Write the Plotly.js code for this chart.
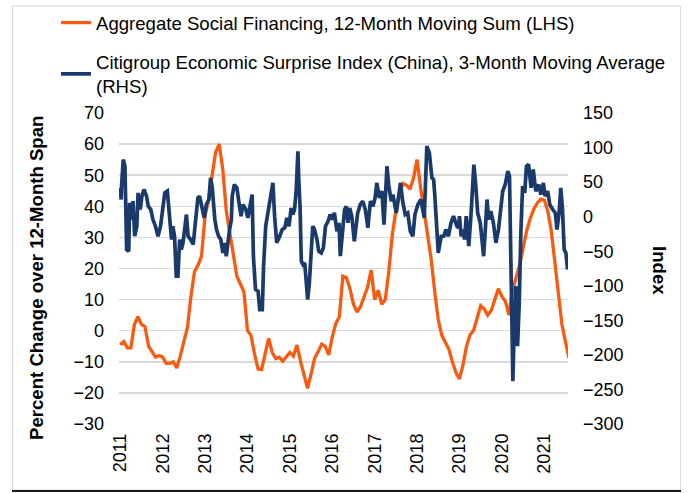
<!DOCTYPE html>
<html>
<head>
<meta charset="utf-8">
<script src="https://cdn.plot.ly/plotly-3.0.1.min.js"></script>
<style>
html,body{margin:0;padding:0;background:#fff;}
#chart{width:688px;height:493px;}
</style>
</head>
<body>
<div id="chart"></div>
<script>
// ---- Data ----
const yearTicks = [2011,2012,2013,2014,2015,2016,2017,2018,2019,2020,2021];
const yearLabels = ["2011","2012","2013","2014","2015","2016","2017","2018","2019","2020","2021"];

// Aggregate Social Financing, 12-month moving sum, % change over 12 months (monthly, Jan 2011 onward)
const tsfStartYear = 2011;
const tsfValues = [
 -4.5,-3.5,-5.5,-5.5,2,4.5,2,1.3,-5,-7,-8.5,-8,
 -8.5,-10.5,-10.5,-10,-12,-8,-3.5,1,11,19,21,24,
 37,42,50,57.5,60,52,38.5,31,24,17.5,15,12.5,
 0,-1.5,-7.5,-12.3,-12.5,-7.5,-2.5,-7,-9,-8.5,-9.8,-8.4,
 -7,-8.2,-4.6,-9.8,-14.3,-18.5,-14,-8.8,-6.8,-4.3,-5,-7.8,
 -2,2.3,4.5,17.5,17,13.5,8.5,6,7.7,10.5,14,19.5,
 10,13,8.5,10,19,31,38.5,44,47.3,46.8,45.5,49,
 55,46,38.5,30,23,12.5,3.5,-1.5,-4,-6,-10,-13.5,
 -15.5,-11,-5,-1.3,0.1,4,8,7,5,6.5,10,13.5,
 11,9.5,5,13,17,21,26.5,32,36,39,41,42.3,
 42,38.5,32,22,11,2,-3.5,-8.9
];

// Citigroup Economic Surprise Index (China), 3-month moving average
const cesiYears = [
 2011.00,2011.02,2011.03,2011.07,2011.11,2011.13,2011.15,2011.20,2011.22,2011.26,2011.30,2011.34,2011.39,2011.42,2011.47,2011.51,2011.56,2011.62,2011.66,2011.72,2011.77,2011.83,2011.89,2011.95,
 2012.01,2012.05,2012.11,2012.17,2012.21,2012.24,2012.28,2012.32,2012.36,2012.40,2012.44,2012.48,2012.52,2012.56,2012.60,2012.66,2012.72,2012.76,2012.79,2012.83,2012.87,2012.93,2012.98,
 2013.03,2013.09,2013.13,2013.17,2013.23,2013.27,2013.32,2013.37,2013.42,2013.46,2013.50,2013.54,2013.58,2013.62,2013.64,2013.69,2013.75,2013.80,2013.85,2013.89,2013.96,
 2014.01,2014.07,2014.11,2014.14,2014.19,2014.25,2014.29,2014.35,2014.38,2014.43,2014.48,2014.52,2014.56,2014.60,2014.64,2014.69,2014.76,2014.82,2014.88,2014.93,2014.98,
 2015.03,2015.07,2015.11,2015.15,2015.19,2015.21,2015.24,2015.27,2015.31,2015.35,2015.39,2015.42,2015.46,2015.50,2015.54,2015.58,2015.64,2015.68,2015.74,2015.79,2015.84,2015.90,2015.95,
 2016.00,2016.05,2016.11,2016.16,2016.19,2016.23,2016.29,2016.33,2016.37,2016.41,2016.46,2016.52,2016.60,2016.66,2016.72,2016.78,2016.84,2016.90,2016.96,
 2017.01,2017.05,2017.11,2017.17,2017.22,2017.25,2017.29,2017.33,2017.39,2017.43,2017.51,2017.61,2017.66,2017.72,2017.78,2017.84,2017.90,2017.95,
 2018.02,2018.09,2018.17,2018.23,2018.29,2018.35,2018.39,2018.42,2018.46,2018.50,2018.57,2018.63,2018.68,2018.74,2018.80,2018.86,2018.94,2018.98,
 2019.00,2019.04,2019.08,2019.12,2019.16,2019.22,2019.27,2019.31,2019.34,2019.38,2019.43,2019.49,2019.53,2019.57,2019.61,2019.65,2019.69,2019.74,2019.80,2019.86,2019.92,2019.98,
 2020.02,2020.08,2020.14,2020.18,2020.22,2020.26,2020.29,2020.33,2020.37,2020.41,2020.45,2020.49,2020.54,2020.58,2020.63,2020.69,2020.74,2020.80,2020.87,2020.92,2020.98,
 2021.02,2021.08,2021.13,2021.20,2021.26,2021.30,2021.35,2021.39,2021.43,2021.47,2021.51,2021.55
];
const cesiValues = [
 41.7,24.8,44.1,82.7,73.0,29.6,-47.6,-50.0,20.0,-4.2,22.4,-28.3,-13.8,34.4,10.3,29.6,39.3,29.6,15.1,10.3,-4.2,-13.8,-28.3,-13.8,
 10.3,34.4,36.9,-13.8,-33.1,-13.8,-28.3,-86.2,-86.2,-33.1,-47.6,-37.9,-18.6,3.1,-28.3,-33.1,-40.3,-13.8,10.3,27.2,29.6,15.1,-1.7,
 17.6,24.8,56.2,41.7,-4.2,-18.6,-28.3,-33.1,-52.4,-37.9,-57.2,-33.1,-18.0,-4.2,29.6,46.5,41.7,20.0,0.7,17.6,10.3,
 -1.7,17.6,32.0,-57.2,-105.5,-107.9,-134.4,-134.4,-71.7,-13.8,3.1,20.0,32.0,48.9,0.7,-37.9,-28.3,-18.6,-16.2,-1.7,-13.8,
 12.7,3.1,10.3,39.3,94.7,53.7,15.1,-64.4,-69.3,-66.9,-95.8,-119.9,-95.8,-52.4,-13.8,-18.6,-33.1,-50.0,-52.4,-45.2,-13.8,-6.6,3.1,
 -4.2,5.5,-21.0,-9.0,-57.2,-28.3,10.3,15.1,-9.0,12.7,0.7,-35.5,5.5,17.6,22.4,10.3,-16.2,22.4,15.1,
 27.2,48.9,27.2,36.9,-11.4,29.6,73.0,46.5,22.4,32.0,5.5,48.9,22.4,3.1,5.5,-21.0,-28.3,3.1,
 17.6,24.8,-1.7,102.0,92.3,56.2,53.7,29.6,-9.0,-52.4,-28.3,-28.3,-18.6,-28.3,-9.0,0.7,-13.8,-16.2,
 0.7,-28.3,-18.6,-33.1,0.7,-42.7,0.7,53.7,75.4,48.9,5.5,-9.0,-33.1,-57.2,-18.6,24.8,-4.2,7.9,-9.0,-37.9,-18.6,15.1,
 36.9,46.5,65.8,58.6,-105.5,-238.1,-163.3,-100.6,-187.5,-124.7,-18.6,44.1,34.4,73.0,75.4,41.7,68.2,36.9,46.5,32.0,48.9,
 29.6,36.9,17.6,10.3,5.5,-18.6,5.5,41.7,10.3,-47.6,-52.4,-76.5
];

const tsfYears = tsfValues.map((v, i) => tsfStartYear + i / 12);

// ---- Chart ----
const FONT = "Liberation Sans, Arial, Helvetica, sans-serif";
const ORANGE = "#FA5A0F";
const NAVY = "#1B3A6C";

const traces = [
  {
    x: tsfYears, y: tsfValues, type: "scatter", mode: "lines",
    name: "Aggregate Social Financing, 12-Month Moving Sum (LHS)",
    line: {color: ORANGE, width: 3.3},
    legendgroup: "a", yaxis: "y", hoverinfo: "x+y"
  },
  {
    x: cesiYears, y: cesiValues, type: "scatter", mode: "lines",
    name: "Citigroup Economic Surprise Index (China), 3-Month Moving Average<br>(RHS)",
    line: {color: NAVY, width: 3.7},
    legendgroup: "b", yaxis: "y2", hoverinfo: "x+y"
  }
];

// paper coordinates of the figure frame
const L = 119, R = 568, T = 113, B = 424;
const px2x = p => (p - L) / (R - L);
const py2y = p => (B - p) / (B - T);

const layout = {
  width: 688, height: 493,
  margin: {l: L, r: 688 - R, t: T, b: 493 - B, pad: 0, autoexpand: false},
  paper_bgcolor: "#ffffff", plot_bgcolor: "#ffffff",
  font: {family: FONT, size: 18, color: "#000000"},
  showlegend: true,
  legend: {
    xref: "container", yref: "container",
    x: 56 / 688, y: 1 - 4 / 493, xanchor: "left", yanchor: "top",
    orientation: "v", traceorder: "grouped", tracegroupgap: 12,
    font: {family: FONT, size: 18.6, color: "#000000"},
    bgcolor: "rgba(0,0,0,0)", borderwidth: 0
  },
  xaxis: {
    range: [2010.97, 2021.56],
    tickmode: "array", tickvals: yearTicks, ticktext: yearLabels,
    tickangle: -90, ticks: "", showgrid: false, zeroline: false, showline: false,
    tickfont: {family: FONT, size: 18, color: "#000000"},
    ticklabelstandoff: 5, fixedrange: true, automargin: false
  },
  yaxis: {
    range: [-30, 70], dtick: 10, tick0: 0,
    showgrid: true, gridcolor: "#d9d9d9", gridwidth: 1.5,
    zeroline: false, showline: false, ticks: "",
    tickfont: {family: FONT, size: 18, color: "#000000"},
    ticklabelstandoff: 14, fixedrange: true, automargin: false
  },
  yaxis2: {
    overlaying: "y", side: "right",
    range: [-300, 150], dtick: 50, tick0: 0,
    showgrid: false, zeroline: false, showline: false, ticks: "",
    tickfont: {family: FONT, size: 18, color: "#000000"},
    ticklabelstandoff: 14, fixedrange: true, automargin: false
  },
  annotations: [
    {
      text: "<b>Percent Change over 12-Month Span</b>",
      xref: "paper", yref: "paper", x: px2x(36), y: py2y(278),
      xanchor: "center", yanchor: "middle", textangle: -90, showarrow: false,
      font: {family: FONT, size: 18.6, color: "#000000"}
    },
    {
      text: "<b>Index</b>",
      xref: "paper", yref: "paper", x: px2x(660), y: py2y(270),
      xanchor: "center", yanchor: "middle", textangle: 90, showarrow: false,
      font: {family: FONT, size: 18.6, color: "#000000"}
    }
  ],
  shapes: [
    {
      type: "rect", xref: "paper", yref: "paper",
      x0: px2x(12.5), x1: px2x(680.5), y0: py2y(490), y1: py2y(6),
      line: {color: "#d9d9d9", width: 1}, fillcolor: "rgba(0,0,0,0)", layer: "below"
    },
    {
      type: "line", xref: "paper", yref: "paper",
      x0: px2x(12), x1: px2x(681), y0: py2y(491), y1: py2y(491),
      line: {color: "#1a1a1a", width: 2}
    }
  ]
};

Plotly.newPlot("chart", traces, layout, {displayModeBar: false, staticPlot: true});
</script>
</body>
</html>
